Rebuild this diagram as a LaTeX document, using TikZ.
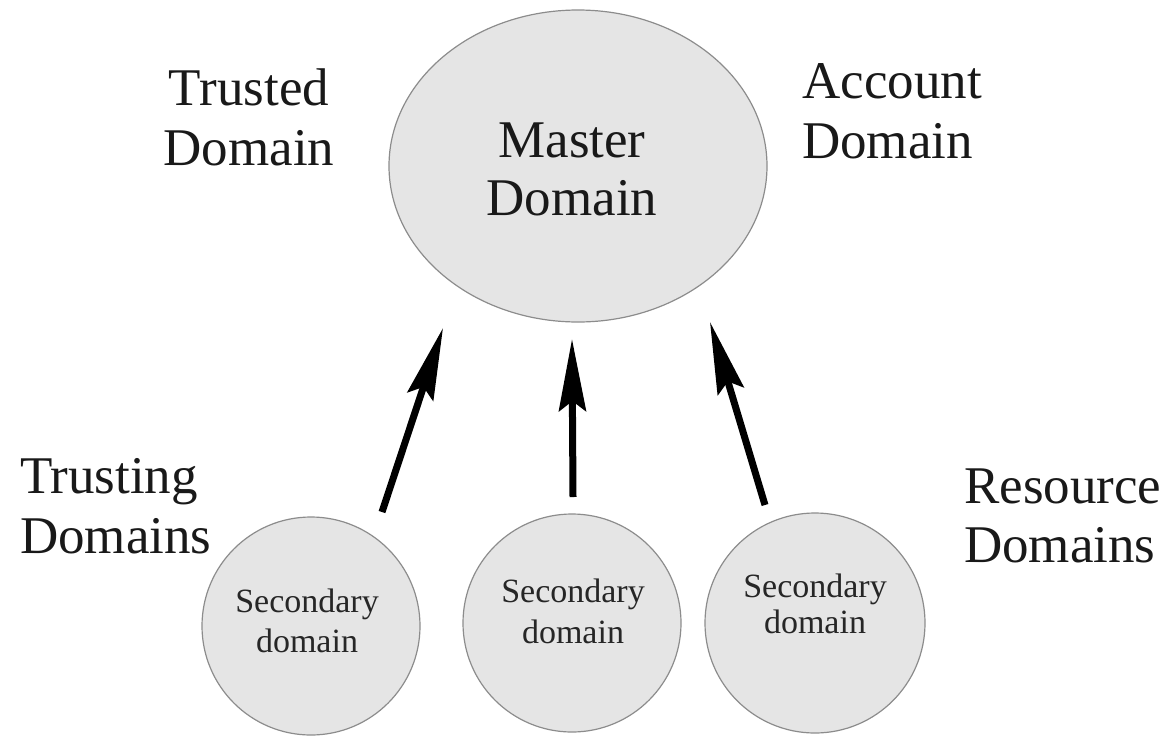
\documentclass[tikz,border=0pt]{standalone}
\usepackage{fontspec}
\setmainfont{Liberation Serif}
\usetikzlibrary{shapes.geometric,arrows.meta}
\tikzset{
  domfill/.style={draw=black!45, line width=1.2pt, fill=black!10},
  bigtxt/.style={font=\fontsize{53}{60}\selectfont, inner sep=0pt, anchor=base, text=black!90},
  smalltxt/.style={font=\fontsize{34}{39}\selectfont, inner sep=0pt, anchor=base, text=black!85},
  trust/.style={line width=7pt, -{Stealth[length=72pt,width=27pt,inset=10pt]}}
}
\begin{document}
\begin{tikzpicture}[x=1pt,y=-1pt]
\useasboundingbox (0,0) rectangle (1170,737);
% shapes
\node[domfill, ellipse, minimum width=378pt, minimum height=312pt, inner sep=0pt] (master) at (578,166) {};
\node[domfill, circle, minimum size=218pt, inner sep=0pt] (s1) at (311,626) {};
\node[domfill, circle, minimum size=218pt, inner sep=0pt] (s2) at (572,623) {};
\node[domfill, circle, minimum size=220pt, inner sep=0pt] (s3) at (815,623) {};
% master text
\node[bigtxt] (m1) at (572,157) {Master};
\node[bigtxt] (m2) at (572,215) {Domain};
% side labels
\node[bigtxt] (t1) at (249,105) {Trusted};
\node[bigtxt] (t2) at (249,165) {Domain};
\node[bigtxt, anchor=base west] (a1) at (802,98) {Account};
\node[bigtxt, anchor=base west] (a2) at (802,158) {Domain};
\node[bigtxt, anchor=base west] (tr1) at (20,493) {Trusting};
\node[bigtxt, anchor=base west] (tr2) at (20,553) {Domains};
\node[bigtxt, anchor=base west] (r1) at (964,503) {Resource};
\node[bigtxt, anchor=base west] (r2) at (964,562) {Domains};
% secondary texts
\node[smalltxt] (s1a) at (307,612) {Secondary};
\node[smalltxt] (s1b) at (307,652) {domain};
\node[smalltxt] (s2a) at (573,602) {Secondary};
\node[smalltxt] (s2b) at (573,643) {domain};
\node[smalltxt] (s3a) at (815,597) {Secondary};
\node[smalltxt] (s3b) at (815,633) {domain};
% arrows
\coordinate (e1s) at (382,512);
\coordinate (e1t) at (443,328);
\coordinate (e2s) at (573,497);
\coordinate (e2t) at (572,339);
\coordinate (e3s) at (765,505);
\coordinate (e3t) at (710,322);
\draw[trust] (e1s) -- (e1t);
\draw[trust] (e2s) -- (e2t);
\draw[trust] (e3s) -- (e3t);
\end{tikzpicture}
\end{document}
